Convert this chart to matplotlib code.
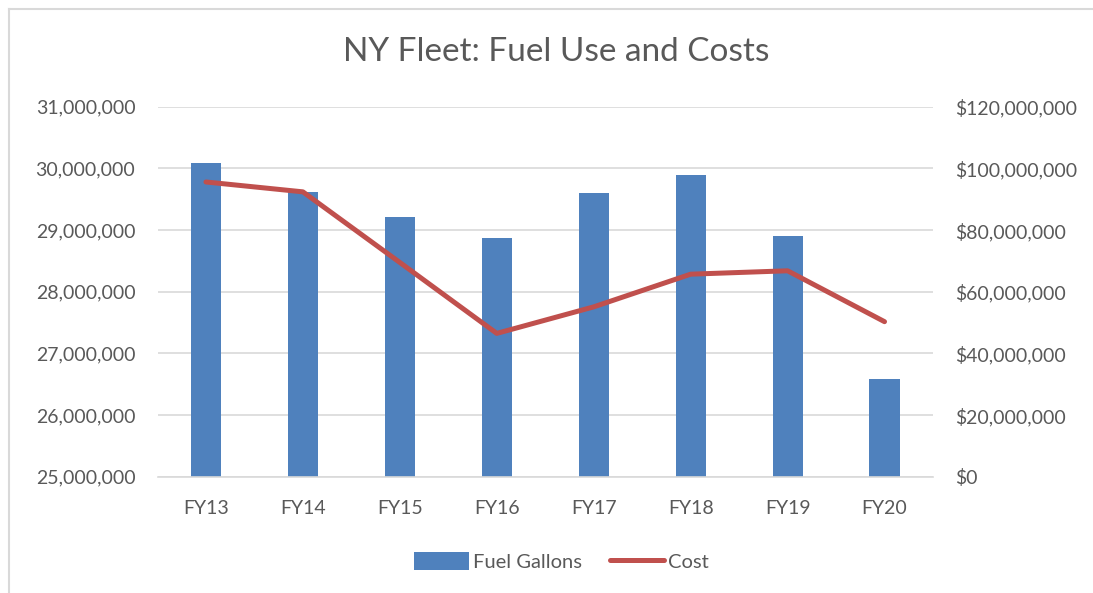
import matplotlib
matplotlib.use("Agg")
import matplotlib.pyplot as plt
from matplotlib.ticker import FuncFormatter, MultipleLocator
from matplotlib.lines import Line2D
from matplotlib.patches import Patch

plt.rcParams['font.family'] = ['Lato', 'DejaVu Sans']

years = ["FY13", "FY14", "FY15", "FY16", "FY17", "FY18", "FY19", "FY20"]
fuel_gallons = [30092000, 29620000, 29210000, 28865000, 29595000, 29886000, 28903000, 26578000]
cost = [95.6e6, 92.4e6, 69.5e6, 46.5e6, 55.1e6, 65.7e6, 66.8e6, 50.3e6]

TXT = "#595959"
BLUE = "#4F81BD"
RED = "#C0504D"
GRID = "#D9D9D9"

fig = plt.figure(figsize=(10.93, 5.93), dpi=100)
ax = fig.add_axes([0.1441, 0.196, 0.7095, 0.624])
ax2 = ax.twinx()

x = list(range(len(years)))
ax.bar(x, fuel_gallons, width=0.31, color=BLUE, zorder=2)
ax2.plot(x, cost, color=RED, lw=3.6, solid_capstyle='round', solid_joinstyle='round', zorder=3)

ax.set_xlim(-0.5, len(years) - 0.5)
ax.set_ylim(25e6, 31e6)
ax2.set_ylim(0, 120e6)
ax.yaxis.set_major_locator(MultipleLocator(1e6))
ax2.yaxis.set_major_locator(MultipleLocator(20e6))
ax.yaxis.set_major_formatter(FuncFormatter(lambda v, p: f"{v:,.0f}"))
ax2.yaxis.set_major_formatter(FuncFormatter(lambda v, p: f"${v:,.0f}"))
ax.set_xticks(x)
ax.set_xticklabels(years)

ax.grid(axis='y', color=GRID, lw=1.2, zorder=0)
ax.set_axisbelow(True)
for a in (ax, ax2):
    for s in ('top', 'right', 'left', 'bottom'):
        a.spines[s].set_visible(False)
ax.spines['bottom'].set_visible(True)
ax.spines['bottom'].set_color(GRID)
ax.spines['bottom'].set_linewidth(1.2)

ax.tick_params(axis='y', length=0, labelsize=14, labelcolor=TXT, pad=16)
ax2.tick_params(axis='y', length=0, labelsize=14, labelcolor=TXT, pad=16)
ax.tick_params(axis='x', length=0, labelsize=14, labelcolor=TXT, pad=17)

fig.text(0.509, 0.913, "NY Fleet: Fuel Use and Costs", ha='center', va='center',
         fontsize=24, color=TXT)

handles = [Patch(facecolor=BLUE, edgecolor='none', label='Fuel Gallons'),
           Line2D([0], [0], color=RED, lw=3.6, solid_capstyle='round', label='Cost')]
fig.legend(handles=handles, loc='center', bbox_to_anchor=(0.514, 0.053), ncol=2,
           frameon=False, fontsize=14.5, labelcolor=TXT, handlelength=2.7,
           handleheight=1.0, handletextpad=0.2, columnspacing=1.4)

# chart border (left and top)
fig.add_artist(Line2D([8.5/1093, 8.5/1093], [0, 1 - 8.5/593], color=GRID, lw=1.5,
                      transform=fig.transFigure))
fig.add_artist(Line2D([8.5/1093, 1], [1 - 8.5/593, 1 - 8.5/593], color=GRID, lw=1.5,
                      transform=fig.transFigure))

fig.savefig("out.png", dpi=100)
